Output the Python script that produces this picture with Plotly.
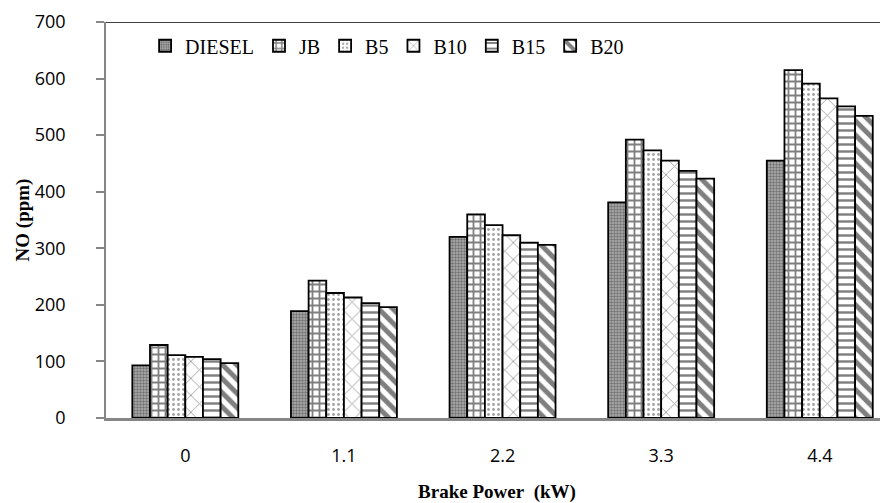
import plotly.graph_objects as go

categories = ["0", "1.1", "2.2", "3.3", "4.4"]
series_names = ["DIESEL", "JB", "B5", "B10", "B15", "B20"]
diesel = [93, 189, 320, 381, 455]
jb = [129, 243, 360, 492, 615]
b5 = [111, 221, 341, 473, 591]
b10 = [108, 213, 323, 455, 565]
b15 = [104, 203, 310, 437, 551]
b20 = [97, 196, 306, 423, 534]
y_ticks = [0, 100, 200, 300, 400, 500, 600, 700]

values = [diesel, jb, b5, b10, b15, b20]
patterns = [
    dict(shape=".", fgcolor="#333333", bgcolor="#b0b0b0", size=3, solidity=0.5),
    dict(shape="+", fgcolor="#000000", bgcolor="#ffffff", size=7, solidity=0.45),
    dict(shape=".", fgcolor="#444444", bgcolor="#ffffff", size=5, solidity=0.25),
    dict(shape="x", fgcolor="#444444", bgcolor="#ffffff", size=12, solidity=0.15),
    dict(shape="-", fgcolor="#000000", bgcolor="#ffffff", size=7, solidity=0.35),
    dict(shape="\\", fgcolor="#000000", bgcolor="#ffffff", size=10, solidity=0.5),
]

xpos = list(range(len(categories)))

fig = go.Figure()
for name, vals, pat in zip(series_names, values, patterns):
    fig.add_trace(go.Bar(
        x=xpos, y=vals, name=name,
        marker=dict(color="#ffffff", pattern=pat,
                    line=dict(color="#000000", width=1.8)),
    ))

# page body has an 8px margin, so the figure is shrunk by 8px and offset accordingly
fig.update_layout(
    width=880, height=495,
    margin=dict(l=98, r=0, t=14, b=80),
    paper_bgcolor="white", plot_bgcolor="white",
    barmode="group", bargap=0.332, bargroupgap=0,
    showlegend=True,
    legend=dict(orientation="h", x=0.05, y=0.94, xanchor="left", yanchor="middle",
                font=dict(family="Liberation Serif", size=20, color="black"),
                bgcolor="rgba(0,0,0,0)", itemwidth=30, tracegroupgap=0),
    font=dict(family="Open Sans", color="black"),
)
fig.update_xaxes(
    range=[-0.5, 4.43], tickmode="array", tickvals=xpos, ticktext=categories,
    showline=True, linecolor="#868686", linewidth=2.5,
    ticks="", showgrid=False, zeroline=False,
    tickfont=dict(family="Open Sans", size=18, color="black"),
    ticklabelstandoff=20,
    title=dict(text="Brake Power\u00a0 (kW)", standoff=22,
               font=dict(family="Liberation Serif", size=19, color="black", weight="bold")),
)
fig.update_yaxes(
    range=[0, 700], tickmode="array", tickvals=y_ticks,
    showline=True, linecolor="#868686", linewidth=1.5,
    ticks="outside", ticklen=8, tickcolor="#868686", tickwidth=1.5,
    showgrid=False, zeroline=False,
    tickfont=dict(family="Open Sans", size=18, color="black"),
    ticklabelstandoff=27,
    title=dict(text="NO (ppm)", standoff=0,
               font=dict(family="Liberation Serif", size=19, color="black", weight="bold")),
)
fig.add_shape(type="line", xref="paper", yref="y", x0=0, x1=1, y0=700, y1=700,
              line=dict(color="black", width=1.5))

fig.write_html("out.html")
